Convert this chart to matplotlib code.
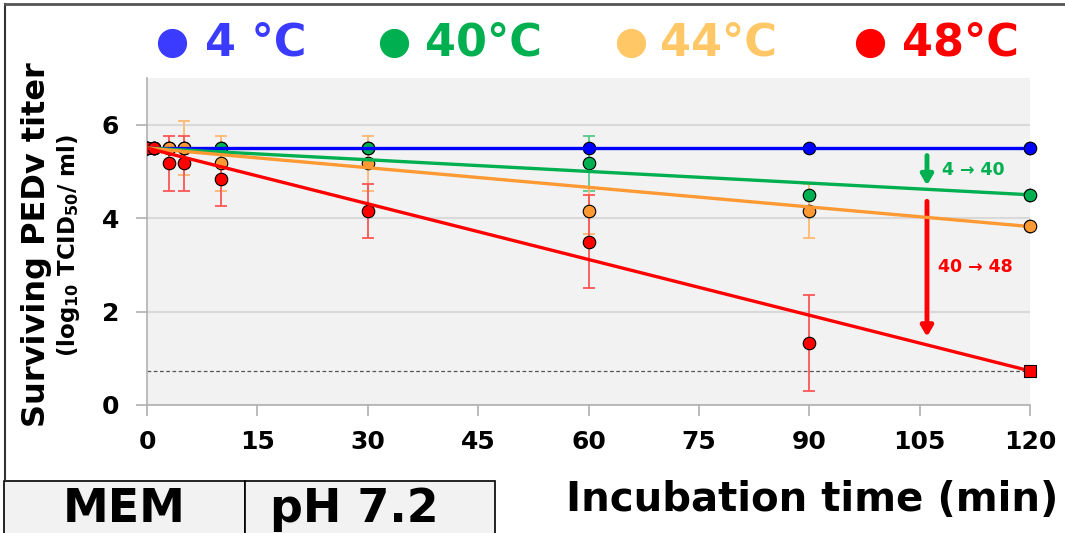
import numpy as np
import matplotlib
matplotlib.use("Agg")
import matplotlib.pyplot as plt
from matplotlib.lines import Line2D
from matplotlib.patches import Rectangle

# sampling times (min)
times = [0, 1, 3, 5, 10, 30, 60, 90, 120]

# mean titers (log10 TCID50/ml) per temperature
titer_4 = [5.5, 5.5, 5.5, 5.5, 5.5, 5.5, 5.5, 5.5, 5.5]
titer_40 = [5.5, 5.5, 5.5, 5.5, 5.5, 5.5, 5.17, 4.5, 4.5]
titer_44 = [5.5, 5.5, 5.5, 5.5, 5.17, 5.17, 4.16, 4.16, 3.83]
titer_48 = [5.5, 5.5, 5.17, 5.17, 4.84, 4.16, 3.5, 1.33]
times_48 = [0, 1, 3, 5, 10, 30, 60, 90]
limit_48 = 0.73  # below detection at 120 min

# standard deviations
sd_4 = [0, 0, 0, 0, 0, 0, 0, 0, 0]
sd_40 = [0, 0, 0, 0, 0, 0, 0.58, 0, 0]
sd_44 = [0, 0, 0, 0.58, 0.58, 0.58, 0.5, 0.58, 0]
sd_48 = [0, 0, 0.58, 0.58, 0.58, 0.58, 1.0, 1.02]

# linear fits: intercept and slope (log10 per min)
fit_intercept = 5.5
slope_4 = 0.0
slope_40 = -0.00833
slope_44 = -0.014
slope_48 = -0.03975

detect_limit = 0.73

blue = "#0000ff"
green = "#00b050"
orange = "#ff9933"
red = "#ff0000"

fig = plt.figure(figsize=(10.65, 5.33), dpi=100)
ax = fig.add_axes([147 / 1065, 128 / 533, 883 / 1065, 327 / 533])
ax.set_facecolor("#f2f2f2")

ax.axhline(detect_limit, color="#555555", lw=0.9, ls=(0, (3, 2)), zorder=1)

series = [
    (times, titer_4, sd_4, blue, "#6666ff", slope_4),
    (times, titer_40, sd_40, green, "#55c98a", slope_40),
    (times, titer_44, sd_44, orange, "#ffb870", slope_44),
    (times_48, titer_48, sd_48, red, "#ff5555", slope_48),
]

xfit = np.array([0, 120])
for t, y, sd, col, ecol, slope in series:
    ax.errorbar(t, y, yerr=sd, fmt="none", ecolor=ecol, elinewidth=1.3,
                capsize=4, capthick=1.3, zorder=2)
    ax.plot(t, y, "o", color=col, mec="black", mew=0.8, ms=9, zorder=3)
    ax.plot(xfit, fit_intercept + slope * xfit, color=col, lw=2.4, zorder=4)

ax.plot([120], [limit_48], "s", color=red, mec="black", mew=0.8, ms=9,
        zorder=5, clip_on=False)

# end points at 120 min drawn over the fit lines
ax.plot([120], [titer_4[-1]], "o", color=blue, mec="black", mew=0.8, ms=9, zorder=5, clip_on=False)
ax.plot([120], [titer_40[-1]], "o", color=green, mec="black", mew=0.8, ms=9, zorder=5, clip_on=False)
ax.plot([120], [titer_44[-1]], "o", color=orange, mec="black", mew=0.8, ms=9, zorder=5, clip_on=False)

# arrows and labels
ax.annotate("", xy=(106, 4.7), xytext=(106, 5.34),
            arrowprops=dict(arrowstyle="-|>,head_width=0.35,head_length=0.6",
                            color=green, lw=3.5, shrinkA=0, shrinkB=0))
ax.text(108, 5.03, "4 \u2192 40", color=green, fontsize=12.5, fontweight="bold",
        va="center", ha="left")
ax.annotate("", xy=(106, 1.46), xytext=(106, 4.36),
            arrowprops=dict(arrowstyle="-|>,head_width=0.35,head_length=0.6",
                            color=red, lw=3.5, shrinkA=0, shrinkB=0))
ax.text(107.5, 2.96, "40 \u2192 48", color=red, fontsize=12.5, fontweight="bold",
        va="center", ha="left")

ax.set_xlim(0, 120)
ax.set_ylim(0, 7)
ax.set_xticks([0, 15, 30, 45, 60, 75, 90, 105, 120])
ax.set_yticks([0, 2, 4, 6])
ax.grid(axis="y", color="#d9d9d9", lw=1.5, zorder=0)
ax.set_axisbelow(True)
for s in ["top", "right"]:
    ax.spines[s].set_visible(False)
for s in ["left", "bottom"]:
    ax.spines[s].set_color("#b0b0b0")
    ax.spines[s].set_linewidth(1.2)
ax.tick_params(axis="both", colors="#b0b0b0", labelcolor="black",
               labelsize=18, width=1.2)
ax.tick_params(axis="y", length=8, pad=12)
ax.tick_params(axis="x", length=8, pad=10)
for lab in ax.get_xticklabels() + ax.get_yticklabels():
    lab.set_fontweight("bold")

# y label (two lines)
fig.text(37 / 1065, 1 - 245 / 533, "Surviving PEDv titer", rotation=90,
         fontsize=23, fontweight="bold", ha="center", va="center")
fig.text(68 / 1065, 1 - 245 / 533, r"(log$_\mathbf{10}$ TCID$_\mathbf{50}$/ ml)",
         rotation=90, fontsize=16.5, fontweight="bold", ha="center", va="center")

fig.text(812 / 1065, 1 - 500 / 533, "Incubation time (min)", fontsize=29,
         fontweight="bold", ha="center", va="center")

# legend on top
leg_items = [
    (172, 205, "4 \u00b0C", "#3b3bff"),
    (394, 425, "40\u00b0C", "#00b050"),
    (631, 660, "44\u00b0C", "#ffc766"),
    (870, 902, "48\u00b0C", "#ff0000"),
]
for cx, tx, lab, col in leg_items:
    fig.add_artist(Line2D([cx / 1065], [1 - 43 / 533], marker="o", color=col,
                          ms=20, ls="none", transform=fig.transFigure))
    fig.text(tx / 1065, 1 - 43 / 533, lab, color=col, fontsize=32,
             fontweight="bold", ha="left", va="center")

# frame lines
fig.add_artist(Line2D([5 / 1065, 5 / 1065], [1 - 480 / 533, 1 - 4 / 533],
                      color="#333333", lw=1.5, transform=fig.transFigure))
fig.add_artist(Line2D([5 / 1065, 1.0], [1 - 4 / 533, 1 - 4 / 533],
                      color="#555555", lw=2, transform=fig.transFigure))

# condition boxes
for x0, x1, cx, lab in [(4, 245, 124, "MEM"), (245, 495, 354, "pH 7.2")]:
    fig.add_artist(Rectangle((x0 / 1065, -0.05), (x1 - x0) / 1065,
                             0.05 + (533 - 481) / 533, facecolor="#f2f2f2",
                             edgecolor="black", lw=1.2,
                             transform=fig.transFigure))
    fig.text(cx / 1065, 1 - 510 / 533, lab, fontsize=33,
             fontweight="bold", ha="center", va="center")

fig.savefig("out.png", dpi=100)
